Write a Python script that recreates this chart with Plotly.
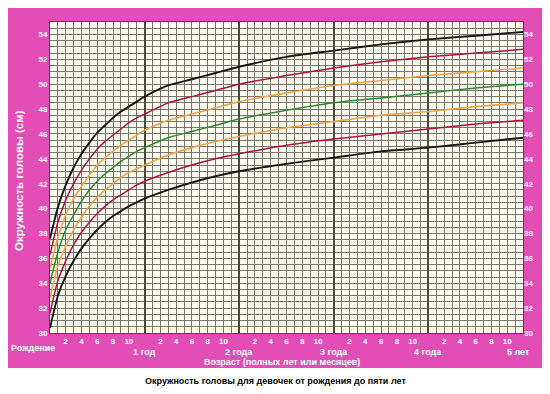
import plotly.graph_objects as go

# Age in months
months = [0, 1, 2, 3, 4, 5, 6, 7, 8, 9, 10, 11, 12, 15, 18, 21, 24, 30, 36, 42, 48, 54, 60]

# Head circumference curves (cm)
sd_m3 = [30.4, 33.0, 34.6, 35.8, 36.8, 37.6, 38.3, 38.9, 39.4, 39.8, 40.2, 40.5, 40.8, 41.5, 42.1, 42.6, 43.0, 43.6, 44.1, 44.6, 44.9, 45.3, 45.7]
sd_m2 = [31.6, 34.2, 35.8, 37.1, 38.1, 38.9, 39.6, 40.2, 40.7, 41.1, 41.5, 41.9, 42.2, 42.9, 43.5, 44.0, 44.4, 45.1, 45.6, 46.0, 46.4, 46.8, 47.1]
sd_m1 = [32.8, 35.4, 37.0, 38.3, 39.3, 40.2, 40.9, 41.5, 42.0, 42.5, 42.9, 43.2, 43.5, 44.3, 44.9, 45.4, 45.8, 46.5, 47.0, 47.5, 47.8, 48.2, 48.5]
sd_0 = [34.0, 36.5, 38.3, 39.5, 40.6, 41.5, 42.2, 42.8, 43.3, 43.8, 44.2, 44.6, 44.9, 45.7, 46.2, 46.7, 47.2, 47.9, 48.5, 48.9, 49.3, 49.7, 50.0]
sd_p1 = [35.2, 37.7, 39.5, 40.8, 41.8, 42.7, 43.5, 44.1, 44.6, 45.1, 45.5, 45.9, 46.3, 47.1, 47.6, 48.1, 48.6, 49.3, 49.9, 50.3, 50.7, 51.0, 51.3]
sd_p2 = [36.3, 38.9, 40.7, 42.0, 43.1, 44.0, 44.8, 45.4, 45.9, 46.4, 46.9, 47.3, 47.6, 48.5, 49.0, 49.5, 50.0, 50.7, 51.3, 51.8, 52.2, 52.5, 52.8]
sd_p3 = [37.6, 40.1, 41.9, 43.3, 44.4, 45.3, 46.1, 46.7, 47.3, 47.8, 48.2, 48.6, 49.0, 49.9, 50.4, 50.9, 51.4, 52.2, 52.7, 53.2, 53.6, 53.9, 54.2]

curves = [
    ("-3", sd_m3, "#151515", 1.9),
    ("-2", sd_m2, "#b0123a", 1.5),
    ("-1", sd_m1, "#f2a348", 1.6),
    ("0", sd_0, "#2a8a2a", 1.5),
    ("+1", sd_p1, "#f2a348", 1.6),
    ("+2", sd_p2, "#b0123a", 1.5),
    ("+3", sd_p3, "#151515", 1.9),
]

# Tick labels
month_tickvals = [12 * y + m for y in range(5) for m in (2, 4, 6, 8, 10)]
month_ticktext = [str(m) for y in range(5) for m in (2, 4, 6, 8, 10)]
year_vals = [12, 24, 36, 48]
year_text = ["1 год", "2 года", "3 года", "4 года"]
last_year_text = "5 лет"
y_ticks = list(range(30, 56, 2))

PINK = "#e24db6"
GRID = "#77776a"

# page body has an 8px margin: work in screen pixels, convert to figure pixels
OFF = 8
W, H = 542, 386
PL, PT, PR, PB = 50, 22, 523, 333          # plot box in screen pixels
L, T = PL - OFF, PT - OFF
PW, PH = PR - PL, PB - PT
R, B = W - L - PW, H - T - PH

def fx(px):
    return (px - OFF - L) / PW

def fy(py):
    return (T + PH - (py - OFF)) / PH

fig = go.Figure()
for name, vals, color, width in curves:
    fig.add_trace(go.Scatter(x=months, y=vals, mode="lines", name=name,
                             line=dict(color=color, width=width, shape="spline", smoothing=0.6),
                             hoverinfo="skip", showlegend=False))

# invisible traces for helper axes
fig.add_trace(go.Scatter(x=[0, 60], y=[30, 55], xaxis="x2", yaxis="y", mode="markers",
                         marker=dict(opacity=0), showlegend=False, hoverinfo="skip"))
fig.add_trace(go.Scatter(x=[0, 60], y=[30, 55], xaxis="x", yaxis="y2", mode="markers",
                         marker=dict(opacity=0), showlegend=False, hoverinfo="skip"))

tickfont = dict(family="Liberation Sans, Arial", size=8, color="white", weight="bold")

fig.update_layout(
    width=W, height=H,
    margin=dict(l=L, r=R, t=T, b=B, autoexpand=False),
    paper_bgcolor="white",
    plot_bgcolor="#fdfdf4",
    xaxis=dict(range=[0, 60], tickvals=month_tickvals, ticktext=month_ticktext,
               tickfont=tickfont, showgrid=True, gridcolor=GRID, gridwidth=1,
               minor=dict(dtick=1, tick0=0, showgrid=True, gridcolor=GRID, gridwidth=1),
               ticks="", zeroline=False, showline=True, linecolor="#4a4a3a", linewidth=1,
               mirror=True, automargin=False),
    xaxis2=dict(range=[0, 60], overlaying="x", dtick=12, tick0=0, showgrid=True,
                gridcolor="#4a4a3a", gridwidth=2, showticklabels=False, ticks="",
                zeroline=False, automargin=False),
    yaxis=dict(range=[30, 55], tickvals=y_ticks, tickfont=tickfont, showgrid=True,
               gridcolor=GRID, gridwidth=1,
               minor=dict(dtick=0.5, tick0=30, showgrid=True, gridcolor=GRID, gridwidth=1),
               ticks="", zeroline=False, showline=True, linecolor="#4a4a3a", linewidth=1,
               mirror=True, automargin=False),
    yaxis2=dict(range=[30, 55], overlaying="y", side="right", tickvals=y_ticks,
                tickfont=tickfont, showgrid=False, ticks="", zeroline=False, automargin=False),
)

shapes = [
    dict(type="rect", xref="paper", yref="paper", x0=fx(5), x1=fx(543), y0=fy(368), y1=fy(8),
         fillcolor=PINK, line=dict(width=0), layer="below"),
    dict(type="rect", xref="paper", yref="paper", x0=0, x1=1, y0=0, y1=1,
         fillcolor="#fdfdf4", line=dict(width=0), layer="below"),
]
fig.update_layout(shapes=shapes)

lab_font = dict(family="Liberation Sans, Arial", size=9, color="white", weight="bold")
annos = []
for v, t in zip(year_vals, year_text):
    annos.append(dict(x=v, y=fy(352), xref="x", yref="paper", text=t, showarrow=False,
                      xanchor="center", yanchor="middle", font=lab_font))
annos.append(dict(x=fx(532), y=fy(352), xref="paper", yref="paper", text=last_year_text,
                  showarrow=False, xanchor="right", yanchor="middle", font=lab_font))
annos.append(dict(x=fx(33), y=fy(348), xref="paper", yref="paper", text="Рождение", showarrow=False,
                  xanchor="center", yanchor="middle", font=lab_font))
annos.append(dict(x=fx(282), y=fy(362), xref="paper", yref="paper",
                  text="Возраст (полных лет или месяцев)", showarrow=False,
                  xanchor="center", yanchor="middle", font=lab_font))
annos.append(dict(x=fx(19), y=fy(181), xref="paper", yref="paper",
                  text="Окружность головы (см)", showarrow=False, textangle=-90,
                  xanchor="center", yanchor="middle",
                  font=dict(family="Liberation Sans, Arial", size=11.5, color="white", weight="bold")))
annos.append(dict(x=fx(275), y=fy(381), xref="paper", yref="paper",
                  text="Окружность головы для девочек от рождения до пяти лет", showarrow=False,
                  xanchor="center", yanchor="middle",
                  font=dict(family="Liberation Sans, Arial", size=9, color="black", weight="bold")))
fig.update_layout(annotations=annos)

fig.write_html("out.html")
